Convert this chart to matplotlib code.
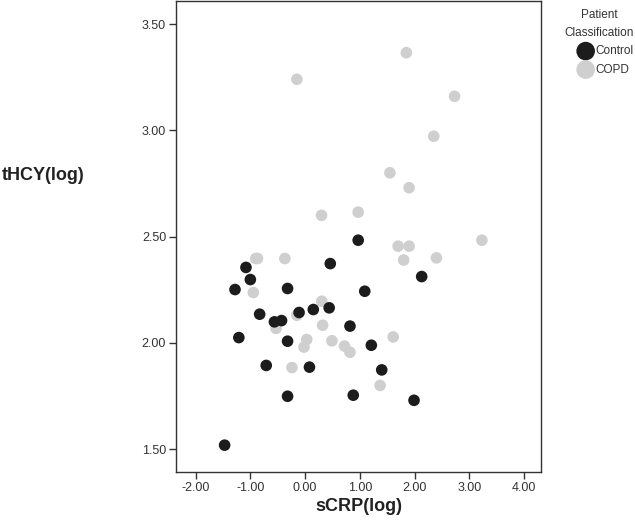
import numpy as np
import matplotlib
matplotlib.use('Agg')
import matplotlib.pyplot as plt

plt.rcParams['font.family'] = ['Liberation Sans', 'DejaVu Sans']

# Control group (log sCRP, log tHCY)
control_x = [-1.08, 0.46, -1.00, -1.28, -0.32, 1.09, -0.83, -0.11, 0.15, 0.44,
             -0.56, -0.43, 0.82, -1.21, -0.32, 1.21, -0.71, 0.08, 1.40, -0.32,
             0.88, -1.47, 2.13, 1.99, 0.97]
control_y = [2.355, 2.373, 2.298, 2.251, 2.256, 2.243, 2.135, 2.143, 2.157, 2.165,
             2.099, 2.105, 2.079, 2.025, 2.008, 1.989, 1.894, 1.886, 1.873, 1.749,
             1.754, 1.519, 2.312, 1.730, 2.483]

# COPD group
copd_x = [-0.15, 1.85, 2.73, 2.35, 1.55, 1.90, 0.30, 0.97, 3.23, 1.70,
          1.90, 1.80, 2.40, -0.87, -0.37, -0.945, 0.305, -0.15, 0.32, -0.53,
          0.03, -0.02, 0.49, 0.72, 0.82, 1.61, -0.24, 1.37, -0.90]
copd_y = [3.24, 3.365, 3.16, 2.972, 2.80, 2.73, 2.60, 2.615, 2.483, 2.455,
          2.455, 2.39, 2.40, 2.397, 2.397, 2.237, 2.196, 2.13, 2.083, 2.068,
          2.016, 1.98, 2.01, 1.985, 1.956, 2.028, 1.884, 1.80, 2.397]

x_ticks = [-2, -1, 0, 1, 2, 3, 4]
y_ticks = [1.5, 2.0, 2.5, 3.0, 3.5]

ctrl_color = '#1c1c1c'
copd_color = '#cfcfcf'

fig = plt.figure(figsize=(6.35, 5.2), dpi=100)
ax = fig.add_axes([0.277, 0.092, 0.575, 0.906])

ax.scatter(copd_x, copd_y, s=70, color=copd_color, edgecolors='none', label='COPD', zorder=2)
ax.scatter(control_x, control_y, s=70, color=ctrl_color, edgecolors='none', label='Control', zorder=3)

ax.set_xlim(-2.36, 4.31)
ax.set_ylim(1.392, 3.608)
ax.set_xticks(x_ticks)
ax.set_yticks(y_ticks)
ax.set_xticklabels([f'{v:.2f}' for v in x_ticks])
ax.set_yticklabels([f'{v:.2f}' for v in y_ticks])
ax.tick_params(direction='out', length=5, width=1, color='#333333',
               labelsize=9, labelcolor='#333333', pad=2)
for sp in ax.spines.values():
    sp.set_color('#333333')
    sp.set_linewidth(1)

ax.set_xlabel('sCRP(log)', fontsize=13, fontweight='bold', color='#222222', labelpad=3)
fig.text(0.003, 0.663, 'tHCY(log)', fontsize=13, fontweight='bold', color='#222222',
         ha='left', va='center')

# legend
handles, labels = ax.get_legend_handles_labels()
leg = ax.legend(handles[::-1], labels[::-1], title='Patient\nClassification',
                loc='upper left', bbox_to_anchor=(1.048, 0.995), frameon=False,
                fontsize=8.5, title_fontsize=8.5, markerscale=1.6,
                handletextpad=0.2, borderpad=0, labelspacing=0.55,
                handlelength=1.3)
leg.get_title().set_color('#333333')
leg.get_title().set_multialignment('center')
leg.get_title().set_linespacing(1.6)
leg._legend_box.align = 'right'
for t in leg.get_texts():
    t.set_color('#333333')

fig.savefig('out.png', dpi=100)
